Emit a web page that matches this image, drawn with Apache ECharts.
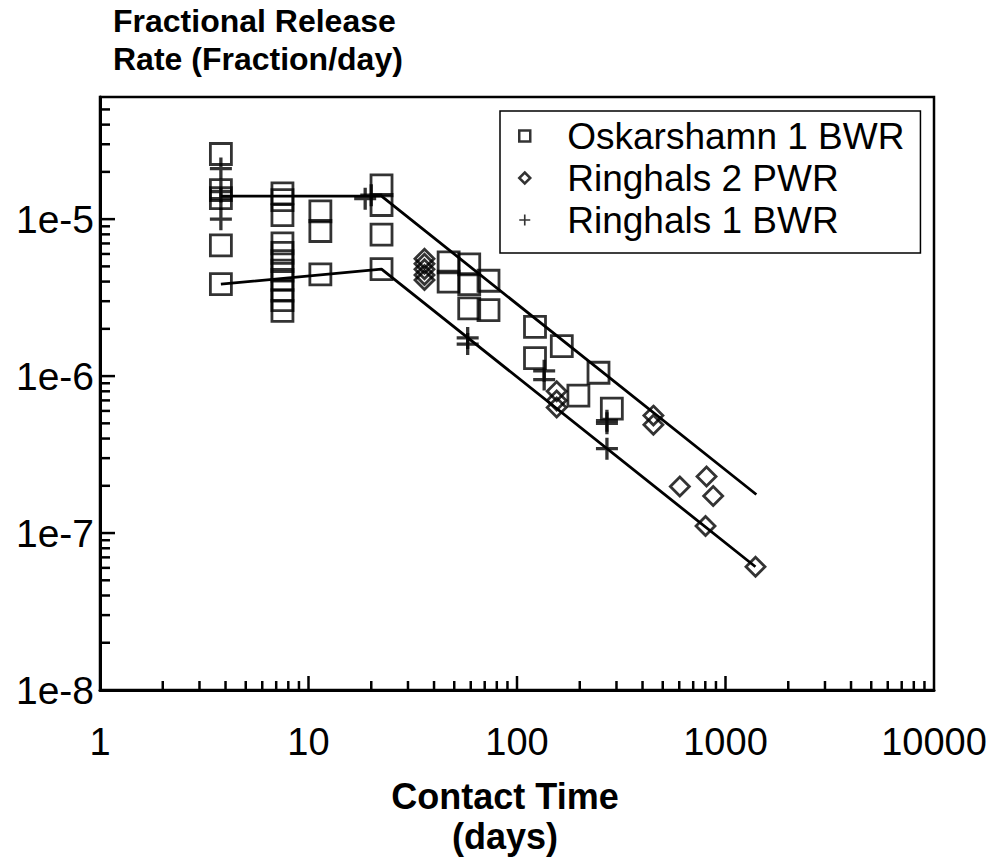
<!DOCTYPE html>
<html>
<head>
<meta charset="utf-8">
<script src="https://cdn.jsdelivr.net/npm/echarts@6/dist/echarts.min.js"></script>
<style>
html,body{margin:0;padding:0;background:#fff;}
#chart{width:992px;height:861px;}
</style>
</head>
<body>
<div id="chart"></div>
<script>
// ---- data (days, fraction/day) ----
const oskarshamn1 = [
  [3.8,2.6e-5],[3.8,1.53e-5],[3.8,1.36e-5],[3.8,6.8e-6],[3.8,3.85e-6],
  [7.5,1.46e-5],[7.5,1.32e-5],[7.5,1.06e-5],[7.5,7.0e-6],[7.5,6.1e-6],[7.5,5.4e-6],
  [7.5,4.7e-6],[7.5,4.1e-6],[7.5,3.5e-6],[7.5,3.05e-6],[7.5,2.6e-6],
  [11.4,1.12e-5],[11.4,8.4e-6],[11.4,4.45e-6],
  [22.4,1.64e-5],[22.4,1.23e-5],[22.4,7.96e-6],[22.4,4.8e-6],
  [47,5.3e-6],[47,4.0e-6],
  [59,5.15e-6],[59,3.85e-6],[59,2.7e-6],
  [73,4.05e-6],[73,2.63e-6],
  [122,2.06e-6],[122,1.3e-6],
  [164,1.55e-6],[197,7.5e-7],[246,1.05e-6],[285,6.2e-7]
];
const ringhals2 = [
  [36,5.6e-6],[36,5.2e-6],[36,4.8e-6],[36,4.4e-6],[36,4.1e-6],
  [155,8.0e-7],[155,7.0e-7],[155,6.3e-7],
  [451,5.6e-7],[451,4.9e-7],
  [604,1.98e-7],[811,2.29e-7],[873,1.72e-7],[802,1.11e-7],[1393,6.1e-8]
];
const ringhals1 = [
  [3.8,2.1e-5],[3.8,1.5e-5],[3.8,1.35e-5],[3.8,1.0e-5],
  [18.7,1.35e-5],[20,1.42e-5],
  [58,1.75e-6],[58,1.6e-6],
  [135,1.08e-6],[135,0.95e-6],
  [270,5.2e-7],[270,5.0e-7],[270,3.45e-7]
];
const upperFit = [[3.8,1.4e-5],[22.4,1.4e-5],[1406,1.76e-7]];
const lowerFit = [[3.8,3.85e-6],[22.4,4.8e-6],[1392,6.1e-8]];
const xTickValues = [1,10,100,1000,10000];
const yTickValues = [1e-8,1e-7,1e-6,1e-5];
const xRange = [1,10000];
const yRange = [1e-8,6e-5];

// ---- minor tick marks (2..9 within each decade) ----
const minorMults = [2,3,4,5,6,7,8,9];
const tickData = [];
xTickValues.slice(0,-1).forEach(d => minorMults.forEach(m => tickData.push([d*m, yRange[0], 9, 0])));
xTickValues.slice(1,-1).forEach(d => tickData.push([d, yRange[0], 14, 0]));
yTickValues.forEach(d => minorMults.forEach(m => { if (d*m < yRange[1]) tickData.push([xRange[0], d*m, 10, 1]); }));
yTickValues.slice(1).forEach(d => tickData.push([xRange[0], d, 15, 1]));

const FONT = '"Liberation Sans", Arial, Helvetica, sans-serif';
const plus = 'path://M8.5,0h3v8.5h8.5v3h-8.5v8.5h-3v-8.5h-8.5v-3h8.5z';

const isPow10 = v => { const e = Math.log10(v); return Math.abs(e - Math.round(e)) < 1e-6; };

const chart = echarts.init(document.getElementById('chart'), null, {renderer:'svg'});
chart.setOption({
  animation: false,
  backgroundColor: '#fff',
  title: {
    text: 'Fractional Release\nRate (Fraction/day)',
    left: 113, top: 2, padding: 0,
    textStyle: {fontFamily: FONT, fontWeight: 'bold', fontSize: 32, lineHeight: 38, color: '#000'}
  },
  legend: {
    orient: 'vertical',
    left: 500, top: 111,
    backgroundColor: '#fff',
    borderColor: '#000', borderWidth: 1.5,
    padding: [6, 16, 14, 18],
    itemGap: 4,
    itemWidth: 11, itemHeight: 11,
    textStyle: {fontFamily: FONT, fontSize: 37, lineHeight: 38, color: '#000', padding: [0,0,0,32]},
    data: [
      {name: 'Oskarshamn 1 BWR', icon: 'rect', itemStyle: {color: '#fff', borderColor: '#000', borderWidth: 2.5}},
      {name: 'Ringhals 2 PWR', icon: 'diamond', itemStyle: {color: '#fff', borderColor: '#000', borderWidth: 2.5}},
      {name: 'Ringhals 1 BWR', icon: plus, itemStyle: {color: '#000', borderWidth: 0}}
    ]
  },
  grid: {
    left: 100, right: 58, top: 97, bottom: 162,
    show: true, borderColor: '#000', borderWidth: 2.5, backgroundColor: 'transparent'
  },
  xAxis: {
    type: 'log', logBase: 10, min: xRange[0], max: xRange[1],
    name: 'Contact Time\n(days)', nameLocation: 'middle', nameGap: 86,
    nameTextStyle: {fontFamily: FONT, fontWeight: 'bold', fontSize: 36, lineHeight: 40, color: '#000', padding: [0, 24, 0, 0]},
    axisLine: {lineStyle: {color: '#000', width: 3}},
    axisTick: {show: false},
    splitLine: {show: false},
    axisLabel: {
      fontFamily: FONT, fontSize: 38, color: '#000', margin: 33,
      formatter: v => isPow10(v) ? String(Math.round(v)) : ''
    }
  },
  yAxis: {
    type: 'log', logBase: 10, min: yRange[0], max: yRange[1],
    axisLine: {lineStyle: {color: '#000', width: 3}},
    axisTick: {show: false},
    splitLine: {show: false},
    axisLabel: {
      fontFamily: FONT, fontSize: 39, color: '#000', margin: 6, padding: [12, 0, 0, 0],
      formatter: v => isPow10(v) ? '1e' + Math.round(Math.log10(v)) : ''
    }
  },
  series: [
    {
      type: 'custom', silent: true, clip: false, z: 5,
      data: tickData,
      encode: {x: 0, y: 1},
      renderItem: (params, api) => {
        const p = api.coord([api.value(0), api.value(1)]);
        const len = api.value(2), dir = api.value(3);
        const end = dir === 0 ? [p[0], p[1] - len] : [p[0] + len, p[1]];
        return {type: 'line', shape: {x1: p[0], y1: p[1], x2: end[0], y2: end[1]},
                style: {stroke: '#000', lineWidth: 2.5}};
      }
    },
    {type: 'line', data: upperFit, symbol: 'none', silent: true, z: 2,
     lineStyle: {color: '#000', width: 2.8}},
    {type: 'line', data: lowerFit, symbol: 'none', silent: true, z: 2,
     lineStyle: {color: '#000', width: 2.8}},
    {name: 'Oskarshamn 1 BWR', type: 'scatter', data: oskarshamn1, symbol: 'rect', symbolSize: 21, z: 3,
     itemStyle: {color: 'transparent', borderColor: '#000', borderWidth: 2.8}},
    {name: 'Ringhals 2 PWR', type: 'scatter', data: ringhals2, symbol: 'diamond', symbolSize: 19, z: 3,
     itemStyle: {color: 'transparent', borderColor: '#000', borderWidth: 2.8}},
    {name: 'Ringhals 1 BWR', type: 'scatter', data: ringhals1, symbol: plus, symbolSize: 22, z: 3,
     itemStyle: {color: '#000', borderWidth: 0}}
  ]
});
</script>
</body>
</html>
